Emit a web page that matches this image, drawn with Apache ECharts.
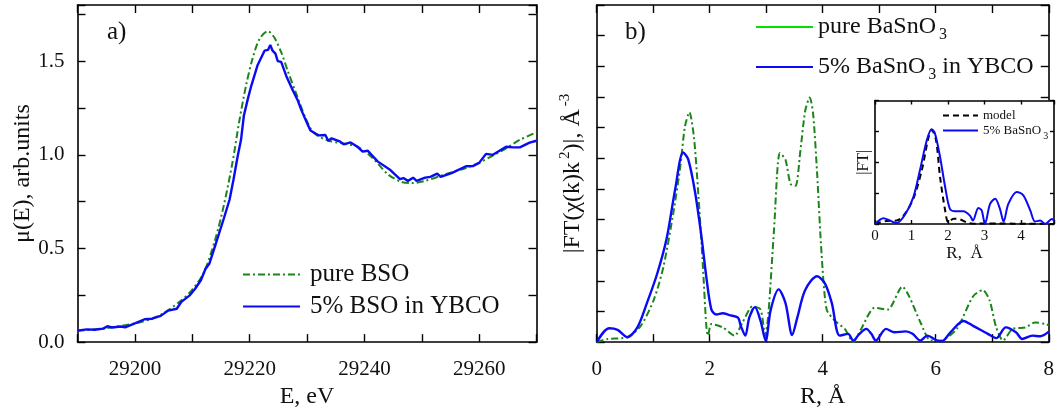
<!DOCTYPE html>
<html>
<head>
<meta charset="utf-8">
<title>XANES and FT of BaSnO3</title>
<script src="https://cdn.jsdelivr.net/npm/echarts@6/dist/echarts.min.js"></script>
<style>
  html, body { margin: 0; padding: 0; background: #fff; }
  #chart { width: 1057px; height: 414px; }
</style>
</head>
<body>
<div id="chart"></div>
<script>
/* a) XANES: pure BSO (dash-dot) */
const pureE = [29190, 29195, 29200, 29203, 29205, 29208, 29210, 29212, 29214, 29215.5, 29217, 29218.2, 29219.4, 29220.5, 29221.7, 29223.2, 29224.3, 29225.5, 29226.7, 29228.2, 29229.7, 29231.1, 29233.5, 29236.4, 29238.8, 29241.2, 29244.1, 29246.4, 29248.2, 29250.6, 29254.1, 29257.7, 29260, 29262.4, 29264.7, 29267.1, 29270]
const pureMu = [0.060, 0.075, 0.100, 0.125, 0.155, 0.220, 0.280, 0.370, 0.548, 0.730, 0.957, 1.180, 1.374, 1.513, 1.617, 1.660, 1.626, 1.548, 1.443, 1.320, 1.200, 1.120, 1.078, 1.060, 1.043, 0.990, 0.896, 0.856, 0.849, 0.861, 0.896, 0.930, 0.957, 0.996, 1.035, 1.080, 1.120]

/* a) XANES: 5% BSO in YBCO */
const dopedE = [29190, 29191.6, 29193, 29194.5, 29195.2, 29196, 29197.5, 29198.3, 29200, 29201.7, 29203, 29204.5, 29205.8, 29207.3, 29208.1, 29209.5, 29210.5, 29211.5, 29212.3, 29213, 29214, 29215.5, 29216.5, 29217.2, 29217.9, 29218.5, 29219, 29219.7, 29220.3, 29221.4, 29222.6, 29223.2, 29223.6, 29224, 29224.5, 29224.9, 29225.5, 29226.4, 29227.6, 29228.4, 29229, 29230, 29230.6, 29232, 29233.2, 29233.7, 29234.3, 29235.8, 29236.4, 29237.6, 29238.8, 29239.7, 29240.6, 29242.3, 29244.4, 29246.2, 29246.8, 29247.6, 29248.5, 29249.1, 29250.6, 29251.5, 29252.7, 29253.3, 29255.3, 29257.7, 29258.9, 29260, 29261.2, 29262.4, 29264.7, 29265.9, 29267.1, 29268.8, 29270]
const dopedMu = [0.061, 0.068, 0.066, 0.072, 0.085, 0.078, 0.083, 0.079, 0.100, 0.122, 0.125, 0.140, 0.168, 0.178, 0.215, 0.248, 0.285, 0.330, 0.390, 0.420, 0.515, 0.660, 0.760, 0.870, 0.990, 1.080, 1.210, 1.300, 1.370, 1.480, 1.556, 1.560, 1.586, 1.556, 1.540, 1.500, 1.496, 1.420, 1.340, 1.290, 1.240, 1.170, 1.130, 1.104, 1.106, 1.075, 1.088, 1.070, 1.056, 1.066, 1.043, 1.017, 1.022, 0.965, 0.922, 0.870, 0.876, 0.861, 0.878, 0.861, 0.878, 0.882, 0.900, 0.882, 0.904, 0.939, 0.940, 0.957, 1.005, 1.000, 1.043, 1.040, 1.040, 1.065, 1.075]

/* b) FT: pure BaSnO3 */
const pureR = [0, 0.19, 0.54, 0.78, 1.01, 1.18, 1.36, 1.48, 1.56, 1.64, 1.72, 1.80, 1.88, 1.94, 1.97, 2.03, 2.23, 2.44, 2.58, 2.76, 2.90, 2.98, 3.04, 3.14, 3.24, 3.34, 3.43, 3.52, 3.60, 3.69, 3.77, 3.83, 3.90, 3.98, 4.07, 4.22, 4.39, 4.54, 4.68, 4.92, 5.15, 5.41, 5.53, 5.73, 5.91, 6.08, 6.37, 6.66, 6.83, 6.95, 7.07, 7.19, 7.36, 7.59, 7.76, 7.94, 8.0]
const pureFt = [0, 0.10, 0.16, 0.53, 1.38, 2.45, 4.26, 5.74, 7.02, 7.50, 6.70, 4.79, 2.45, 0.53, 0.21, 0.59, 0.48, 0.21, 0.64, 1.17, 1.06, 0.21, 0.96, 3.72, 6.17, 5.96, 5.16, 5.10, 6.17, 7.55, 7.98, 7.45, 5.53, 2.87, 1.06, 0.69, 0.43, 0, 0.43, 1.12, 1.06, 1.81, 1.49, 0.64, 0.05, 0.05, 0.43, 1.49, 1.70, 1.38, 0.48, 0.05, 0.43, 0.48, 0.64, 0.59, 0.55]

/* b) FT: 5% BaSnO3 in YBCO */
const dopedR = [0, 0.22, 0.37, 0.54, 0.72, 0.89, 1.07, 1.24, 1.39, 1.53, 1.62, 1.74, 1.85, 1.94, 2.03, 2.12, 2.23, 2.35, 2.50, 2.55, 2.63, 2.70, 2.80, 2.90, 2.99, 3.08, 3.22, 3.34, 3.46, 3.55, 3.69, 3.90, 4.04, 4.16, 4.30, 4.45, 4.54, 4.65, 4.77, 4.86, 4.94, 5.12, 5.27, 5.47, 5.59, 5.73, 5.85, 6.02, 6.11, 6.26, 6.49, 6.66, 6.92, 7.07, 7.24, 7.42, 7.53, 7.71, 7.85, 8.0]
const dopedFt = [0, 0.45, 0.40, 0.16, 0.48, 1.28, 2.23, 3.40, 5.00, 6.19, 5.96, 4.90, 3.50, 2.13, 1.06, 0.90, 0.94, 0.88, 0.80, 0.53, 0.21, 0.80, 1.14, 0.69, 0.05, 1.06, 1.72, 1.28, 0.23, 0.80, 1.70, 2.15, 1.91, 1.28, 0.21, 0.27, 0.05, 0.27, 0.43, 0.27, 0.05, 0.43, 0.32, 0.35, 0.27, 0.05, 0.21, 0.05, 0.03, 0.32, 0.69, 0.53, 0.27, 0.13, 0.48, 0.32, 0.10, 0.21, 0.19, 0.34]

/* inset: model and 5% BaSnO3 */
const modelR = [0, 0.32, 0.59, 0.78, 1.05, 1.28, 1.46, 1.55, 1.67, 1.78, 1.92, 2.01, 2.15, 2.33, 2.51, 2.74, 3.06, 3.42, 3.80, 4.20, 4.90]
const modelFt = [0, 0.10, 0.11, 0.27, 0.82, 1.74, 2.78, 3.05, 2.72, 1.53, 0.44, 0.05, 0.17, 0.15, 0.05, 0.01, 0.02, 0.02, 0.01, 0.01, 0]
const insetR = [0, 0.23, 0.41, 0.59, 0.82, 1.05, 1.23, 1.42, 1.55, 1.64, 1.78, 1.92, 2.05, 2.19, 2.42, 2.60, 2.68, 2.83, 2.92, 3.01, 3.15, 3.29, 3.42, 3.52, 3.65, 3.88, 4.06, 4.25, 4.38, 4.52, 4.66, 4.84, 4.90]
const insetFt = [0, 0.19, 0.11, 0.03, 0.30, 0.87, 1.74, 2.72, 3.07, 2.94, 2.18, 1.20, 0.49, 0.41, 0.41, 0.27, 0.11, 0.52, 0.44, 0, 0.65, 0.82, 0.49, 0.08, 0.65, 1.04, 0.93, 0.44, 0.08, 0.11, 0, 0.16, 0.10]

const FONT = 'Liberation Serif'
const BLUE = '#0a0af5'
const GREEN = '#1a861a'
const DASHDOT = [7, 3, 2, 3]

const zip = (xs, ys) => xs.map((x, i) => [x, ys[i]])

const axisLineStyle = { lineStyle: { color: '#000', width: 1.6 } }
const tickStyle = (len) => ({ show: true, inside: true, length: len, lineStyle: { color: '#000', width: 1.4 } })

/* 一对坐标轴 (带镜像) */
const makeX = (gridIndex, min, max, interval, fmt, fontSize, margin, name, nameSize, nameGap, tickLen) => [
  {
    type: 'value', gridIndex, min, max, interval, position: 'bottom',
    axisLine: { onZero: false, ...axisLineStyle },
    axisTick: tickStyle(tickLen),
    splitLine: { show: false },
    axisLabel: { formatter: fmt, fontFamily: FONT, fontSize, color: '#111', margin, showMaxLabel: true, showMinLabel: true },
    name, nameLocation: 'middle', nameGap,
    nameTextStyle: { fontFamily: FONT, fontSize: nameSize, color: '#111' }
  },
  {
    type: 'value', gridIndex, min, max, interval, position: 'top',
    axisLine: { onZero: false, ...axisLineStyle },
    axisTick: tickStyle(tickLen),
    splitLine: { show: false },
    axisLabel: { show: false }
  }
]

const makeY = (gridIndex, min, max, interval, fmt, fontSize, margin, name, nameSize, nameGap, tickLen, rich) => [
  {
    type: 'value', gridIndex, min, max, interval, position: 'left',
    axisLine: { onZero: false, ...axisLineStyle },
    axisTick: tickStyle(tickLen),
    splitLine: { show: false },
    axisLabel: fmt ? { formatter: fmt, fontFamily: FONT, fontSize, color: '#111', margin, padding: [6, 0, 0, 0] } : { show: false },
    name, nameLocation: 'middle', nameGap,
    nameTextStyle: { fontFamily: FONT, fontSize: nameSize, color: '#111', rich }
  },
  {
    type: 'value', gridIndex, min, max, interval, position: 'right',
    axisLine: { onZero: false, ...axisLineStyle },
    axisTick: tickStyle(tickLen),
    splitLine: { show: false },
    axisLabel: { show: false }
  }
]

const isMultiple = (v, step) => Math.abs(v / step - Math.round(v / step)) < 1e-6

const supRich = {
  sup: { fontFamily: FONT, fontSize: 15, verticalAlign: 'top', lineHeight: 30, padding: [0, 0, 0, 3], color: '#111' }
}

const legendRich = (size, subSize, subGap, lead) => ({
  t: { fontFamily: FONT, fontSize: size, color: '#111', lineHeight: size + 8, verticalAlign: 'middle' },
  l: { fontFamily: FONT, fontSize: size, color: '#111', lineHeight: size + 8, verticalAlign: 'middle', padding: [0, 0, 0, lead] },
  s: { fontFamily: FONT, fontSize: subSize, color: '#111', padding: [Math.round(size * 0.35), 0, 0, subGap], lineHeight: size + 8, verticalAlign: 'bottom' }
})

const subFormatter = (name) => {
  const m = name.match(/^(.*BaSnO)3(.*)$/)
  if (!m) return '{t|' + name + '}'
  return '{t|' + m[1] + '}{s|3}' + (m[2] ? '{t|' + m[2] + '}' : '')
}

const initChart = () => {
  const chartDom = document.getElementById('chart')
  const myChart = echarts.init(chartDom, null, { renderer: 'canvas' })

  const xAxes = [
    ...makeX(0, 29190, 29270, 10, (v) => (isMultiple(v, 20) ? String(v) : ''), 21, 17, 'E, eV', 24, 37, 8),
    ...makeX(1, 0, 8, 1, (v) => (isMultiple(v, 2) ? String(v) : ''), 21, 17, 'R, Å', 24, 37, 8),
    ...makeX(2, 0, 4.9, 1, (v) => (isMultiple(v, 1) ? String(v) : ''), 15, 5, 'R,  Å', 17, 17, 4)
  ]
  const yAxes = [
    ...makeY(0, 0, 1.8, 0.25, (v) => (isMultiple(v, 0.5) ? v.toFixed(1) : ''), 21, 13, 'μ(E), arb.units', 24, 40, 8),
    ...makeY(1, 0, 11, 1, null, 0, 0, '|FT(χ(k)k{sup|2})|, Å{sup|-3}', 24, 9, 8, supRich),
    ...makeY(2, 0, 4, 1, null, 0, 0, '|FT|', 16, 3, 4)
  ]

  /* 图例只画线, 隐藏符号 */
  const legendBase = {
    orient: 'vertical', padding: 0, selectedMode: false,
    itemStyle: { opacity: 0, borderWidth: 0, color: 'rgba(0,0,0,0)' }
  }

  const option = {
    animation: false,
    backgroundColor: '#fff',
    textStyle: { fontFamily: FONT },
    title: [
      { text: 'a)', left: 107, top: 20, padding: 0, textStyle: { fontFamily: FONT, fontSize: 25, fontWeight: 'normal', color: '#111' } },
      { text: 'b)', left: 625, top: 20, padding: 0, textStyle: { fontFamily: FONT, fontSize: 25, fontWeight: 'normal', color: '#111' } }
    ],
    grid: [
      { left: 77.5, top: 5, width: 459, height: 344.5 },
      { left: 596.7, top: 5, width: 457.6, height: 344.5 },
      { left: 875, top: 100.5, width: 179.3, height: 123.5, show: true, backgroundColor: '#fff', borderWidth: 0, z: 5 }
    ],
    xAxis: xAxes.map((a, i) => ({ ...a, z: i >= 4 ? 6 : 2 })),
    yAxis: yAxes.map((a, i) => ({ ...a, z: i >= 4 ? 6 : 2 })),
    legend: [
      {
        ...legendBase,
        data: ['pure BSO', '5% BSO in YBCO'],
        left: 242, top: 262, itemWidth: 57, itemHeight: 12, itemGap: 7,
        formatter: (n) => '{l|' + n + '}',
        textStyle: { rich: legendRich(25, 17, 3, 5) }
      },
      {
        ...legendBase,
        data: [
          { name: 'pure BaSnO3', lineStyle: { color: '#00e000', type: 'solid', width: 2 } },
          { name: '5% BaSnO3 in YBCO' }
        ],
        left: 755, top: 15, itemWidth: 57, itemHeight: 12, itemGap: 12,
        formatter: subFormatter,
        textStyle: { rich: legendRich(24, 16, 3, 0) }
      },
      {
        ...legendBase,
        data: ['model', '5% BaSnO3'],
        left: 942, top: 109, itemWidth: 35, itemHeight: 8, itemGap: 2, z: 8,
        formatter: subFormatter,
        textStyle: { rich: legendRich(13, 10, 2, 0) }
      }
    ],
    series: [
      {
        name: 'pure BSO', type: 'line', xAxisIndex: 0, yAxisIndex: 0, symbol: 'none', smooth: 0.3,
        data: zip(pureE, pureMu), lineStyle: { color: GREEN, width: 2, type: DASHDOT }, itemStyle: { color: GREEN }
      },
      {
        name: '5% BSO in YBCO', type: 'line', xAxisIndex: 0, yAxisIndex: 0, symbol: 'none',
        data: zip(dopedE, dopedMu), lineStyle: { color: BLUE, width: 2.4 }, itemStyle: { color: BLUE }
      },
      {
        name: 'pure BaSnO3', type: 'line', xAxisIndex: 2, yAxisIndex: 2, symbol: 'none', smooth: 0.25,
        data: zip(pureR, pureFt), lineStyle: { color: GREEN, width: 2, type: DASHDOT }, itemStyle: { color: GREEN }
      },
      {
        name: '5% BaSnO3 in YBCO', type: 'line', xAxisIndex: 2, yAxisIndex: 2, symbol: 'none', smooth: 0.3,
        data: zip(dopedR, dopedFt), lineStyle: { color: BLUE, width: 2.4 }, itemStyle: { color: BLUE }
      },
      {
        name: 'model', type: 'line', xAxisIndex: 4, yAxisIndex: 4, symbol: 'none', smooth: 0.3, z: 7,
        data: zip(modelR, modelFt), lineStyle: { color: '#000', width: 2, type: [6, 4] }, itemStyle: { color: '#000' }
      },
      {
        name: '5% BaSnO3', type: 'line', xAxisIndex: 4, yAxisIndex: 4, symbol: 'none', smooth: 0.3, z: 7,
        data: zip(insetR, insetFt), lineStyle: { color: BLUE, width: 2 }, itemStyle: { color: BLUE }
      }
    ]
  }

  myChart.setOption(option)
}

initChart()
</script>
</body>
</html>
